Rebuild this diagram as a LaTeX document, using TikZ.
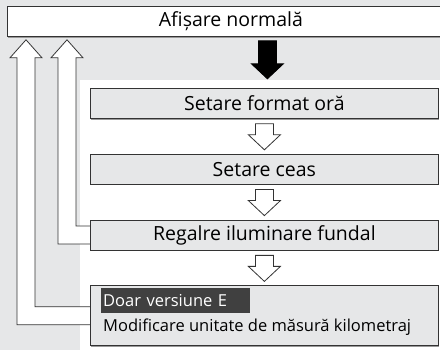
\documentclass[tikz,border=0pt]{standalone}
\usepackage{fontspec}
\setmainfont{Open Sans}
\usetikzlibrary{calc,positioning,shadows,backgrounds}

\definecolor{panelgrey}{HTML}{E6E7E8}
\definecolor{framegrey}{HTML}{333333}
\definecolor{tagdark}{HTML}{404040}

\tikzset{
  stepbox/.style={draw=framegrey, line width=0.8pt, fill=panelgrey,
    minimum width=348pt, minimum height=30pt, inner sep=0pt,
    drop shadow={shadow xshift=0.6pt, shadow yshift=-1.2pt, fill=black!40, opacity=1},
    font=\fontsize{19.5}{22}\selectfont},
  smalltext/.style={font=\fontsize{16.5}{20}\selectfont},
  hollow/.style={draw=framegrey, line width=0.8pt, fill=white},
  filled/.style={draw=black, line width=0.8pt, fill=black}
}

% block arrow pointing down: #2 = top of shaft, #3 = tip
\newcommand{\blockdown}[3][hollow]{%
  \draw[#1] let \p1=(#2), \p2=(#3) in
    (\x1-9pt,\y1) -- (\x1-9pt,\y2+15pt) -- (\x1-16pt,\y2+15pt) -- (\x1,\y2)
    -- (\x1+16pt,\y2+15pt) -- (\x1+9pt,\y2+15pt) -- (\x1+9pt,\y1) -- cycle;}

% return arrow: from the left side of #1, up the column at x=#2, into #3
\newcommand{\blockback}[3]{%
  \draw[hollow] let \p1=(#1.west), \p2=(#3.south) in
    (\x1,\y1+9pt) -- (#2pt+9pt,\y1+9pt) -- (#2pt+9pt,\y2-21pt)
    -- (#2pt+16pt,\y2-21pt) -- (#2pt,\y2-3pt) -- (#2pt-16pt,\y2-21pt)
    -- (#2pt-9pt,\y2-21pt) -- (#2pt-9pt,\y1-9pt) -- (\x1,\y1-9pt);}

\begin{document}
\begin{tikzpicture}[x=1pt,y=-1pt]
\useasboundingbox (0,0) rectangle (440,350);

% boxes
\node[stepbox, fill=white, minimum width=447pt, anchor=north west] (normal) at (7,6) {Afișare normală};
\node[stepbox, anchor=north west] (format) at (90,88) {Setare format oră};
\node[stepbox, below=35pt of format] (ceas) {Setare ceas};
\node[stepbox, below=35pt of ceas] (ilum) {Regalre iluminare fundal};
\node[stepbox, minimum height=60pt, below=35pt of ilum] (km) {};
\node[smalltext, fill=tagdark, text=white, anchor=north west, text width=145pt,
  inner xsep=2pt, inner ysep=0pt, minimum height=25pt]
  (tag) at ($(km.north west)+(11,2)$) {Doar versiune E};
\node[smalltext, anchor=base west, inner sep=0pt]
  (kmtext) at ($(tag.south west)+(2,19)$) {Modificare unitate de măsură kilometraj};

% arrows
\blockdown[filled]{$(normal.south -| format.north)+(3,4)$}{$(normal.south -| format.north)+(3,42)$}
\blockdown{$(format.south)+(0,5)$}{$(ceas.north)+(0,-4)$}
\blockdown{$(ceas.south)+(0,5)$}{$(ilum.north)+(0,-4)$}
\blockdown{$(ilum.south)+(0,5)$}{$(km.north)+(0,-4)$}

\begin{scope}[on background layer]
  \fill[panelgrey] (0,0) rectangle (440,350);
  \fill[white] (80,80) rectangle (440,350);
  \blockback{km}{26}{normal}
  \blockback{ilum}{67}{normal}
\end{scope}
\end{tikzpicture}
\end{document}
